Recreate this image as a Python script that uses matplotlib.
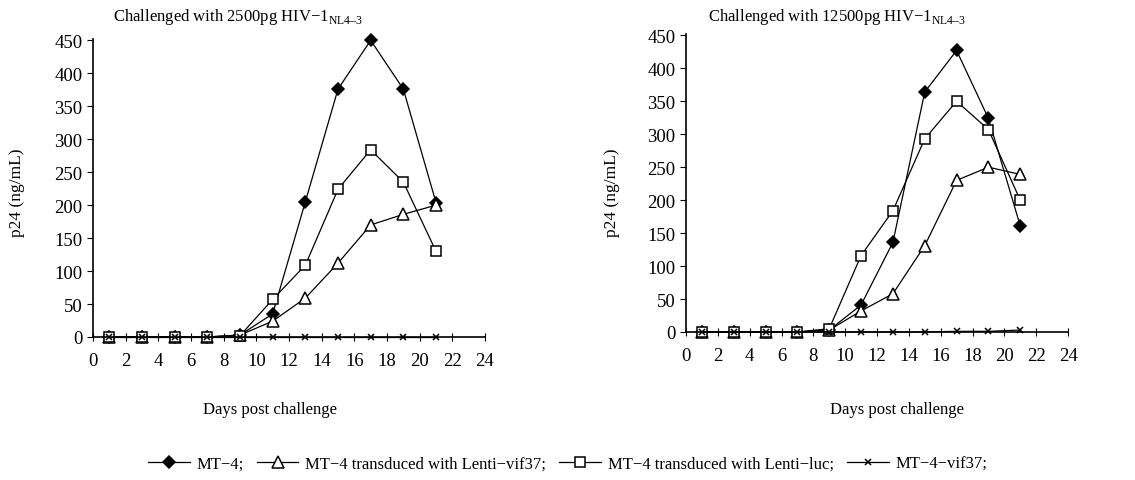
import matplotlib
matplotlib.use("Agg")
import matplotlib.pyplot as plt

plt.rcParams["font.family"] = ["Liberation Serif", "DejaVu Serif"]
plt.rcParams["mathtext.fontset"] = "custom"
plt.rcParams["mathtext.rm"] = "Liberation Serif"

days = [1, 3, 5, 7, 9, 11, 13, 15, 17, 19, 21]

# 2500pg challenge
low_mt4 = [0, 0, 0, 0, 3, 35, 205, 376, 450, 376, 204]
low_vif = [0, 0, 0, 0, 3, 24, 59, 112, 170, 186, 200]
low_luc = [0, 0, 0, 0, 2, 57, 109, 224, 284, 235, 130]
low_mt4vif = [0, 0, 0, 0, 0, 0, 0, 0, 0, 0, 0]

# 12500pg challenge
high_mt4 = [0, 0, 0, 0, 3, 41, 136, 364, 427, 324, 161]
high_vif = [0, 0, 0, 0, 3, 32, 58, 131, 230, 250, 239]
high_luc = [0, 0, 0, 0, 5, 116, 184, 293, 350, 307, 200]
high_mt4vif = [0, 0, 0, 0, 0, 0, 0, 0, 1, 1, 3]

labels = ["MT−4;", "MT−4 transduced with Lenti−vif37;",
          "MT−4 transduced with Lenti−luc;", "MT−4−vif37;"]
titles = [r"Challenged with 2500pg HIV−1$_{\mathrm{NL4–3}}$",
          r"Challenged with 12500pg HIV−1$_{\mathrm{NL4–3}}$"]

styles = [
    dict(marker="D", markersize=6.5, markerfacecolor="black"),
    dict(marker="^", markersize=8, markerfacecolor="white"),
    dict(marker="s", markersize=7.5, markerfacecolor="white"),
    dict(marker="x", markersize=5, markerfacecolor="black"),
]

W, H = 1135, 481
fig = plt.figure(figsize=(W / 100, H / 100), dpi=100)

panels = [
    ([93, 40, 485, 338], [low_mt4, low_vif, low_luc, low_mt4vif], 238, 17, 270),
    ([686, 35, 1068, 333], [high_mt4, high_vif, high_luc, high_mt4vif], 837, 612, 897),
]

for i, (box, series, tx, ylx, xlx) in enumerate(panels):
    l, t, r, b = box
    ax = fig.add_axes([l / W, 1 - b / H, (r - l) / W, (b - t) / H])
    handles = []
    for ys, st, lab in zip(series, styles, labels):
        h, = ax.plot(days, ys, color="black", linewidth=0.9,
                     markeredgecolor="black", markeredgewidth=1.1,
                     clip_on=False, label=lab, **st)
        handles.append(h)
    ax.set_xlim(0, 24)
    ax.set_ylim(0, 452)
    ax.set_xticks(range(0, 25, 2))
    ax.set_yticks(range(0, 451, 50))
    ax.spines["top"].set_visible(False)
    ax.spines["right"].set_visible(False)
    ax.spines["left"].set_linewidth(1.2)
    ax.spines["bottom"].set_linewidth(1.2)
    ax.tick_params(axis="x", direction="inout", length=6, labelsize=13.5, pad=8)
    ax.tick_params(axis="y", direction="out", length=4, labelsize=13.5)
    fig.text(tx / W, 1 - 17 / H, titles[i], ha="center", va="center", fontsize=12)
    fig.text(ylx / W, 1 - 193 / H, "p24 (ng/mL)", rotation=90,
             ha="center", va="center", fontsize=12.5)
    fig.text(xlx / W, 1 - 410 / H, "Days post challenge",
             ha="center", va="center", fontsize=12)

fig.legend(handles, labels, loc="center", bbox_to_anchor=(0.5, 1 - 465 / H),
           ncol=4, frameon=False, fontsize=12, handlelength=2.5,
           columnspacing=0.8, handletextpad=0.4)

fig.savefig("out.png", dpi=100)
